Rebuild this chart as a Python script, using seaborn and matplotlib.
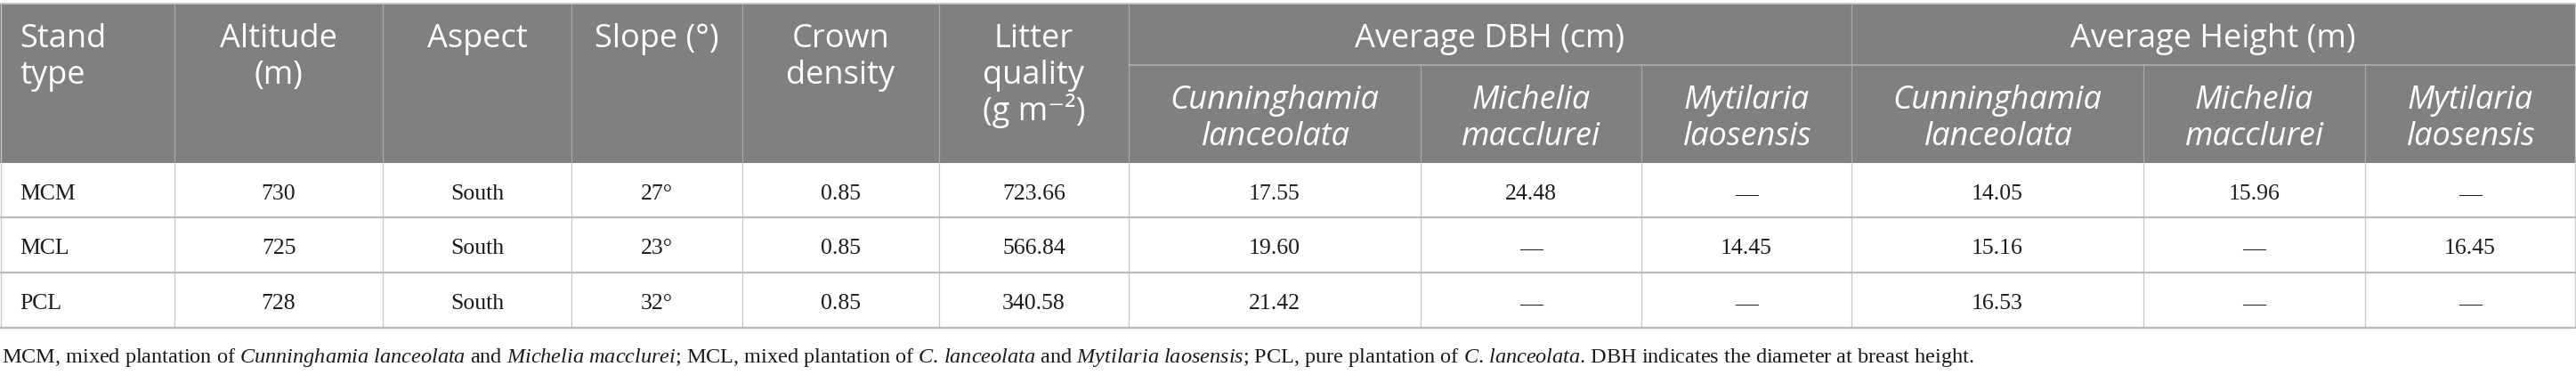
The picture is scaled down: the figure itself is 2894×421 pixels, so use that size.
import pandas as pd
import matplotlib.pyplot as plt
import seaborn as sns
from matplotlib.patches import Rectangle

# table values
stand_types = ["MCM", "MCL", "PCL"]
altitude = [730, 725, 728]
aspect = ["South", "South", "South"]
slope = [27, 23, 32]
crown_density = [0.85, 0.85, 0.85]
litter_quality = [723.66, 566.84, 340.58]
dbh_cunninghamia = [17.55, 19.60, 21.42]
dbh_michelia = [24.48, None, None]
dbh_mytilaria = [None, 14.45, None]
height_cunninghamia = [14.05, 15.16, 16.53]
height_michelia = [15.96, None, None]
height_mytilaria = [None, 16.45, None]

main_headers = [["Stand", "type"], ["Altitude", "(m)"], ["Aspect"], ["Slope (°)"],
                ["Crown", "density"], ["Litter", "quality", "(g m⁻²)"]]
group_headers = ["Average DBH (cm)", "Average Height (m)"]
species_headers = [["Cunninghamia", "lanceolata"], ["Michelia", "macclurei"],
                   ["Mytilaria", "laosensis"]]

footnote = (r"MCM, mixed plantation of $\mathit{Cunninghamia}$ $\mathit{lanceolata}$ and "
            r"$\mathit{Michelia}$ $\mathit{macclurei}$; MCL, mixed plantation of "
            r"$\mathit{C}$. $\mathit{lanceolata}$ and $\mathit{Mytilaria}$ $\mathit{laosensis}$; "
            r"PCL, pure plantation of $\mathit{C}$. $\mathit{lanceolata}$. "
            r"DBH indicates the diameter at breast height.")


def fmt(v):
    return "—" if v is None else f"{v:.2f}"


df = pd.DataFrame({
    "stand": stand_types,
    "altitude": [str(a) for a in altitude],
    "aspect": aspect,
    "slope": [f"{s}°" for s in slope],
    "crown": [f"{c:.2f}" for c in crown_density],
    "litter": [f"{l:.2f}" for l in litter_quality],
    "dbh_c": [fmt(v) for v in dbh_cunninghamia],
    "dbh_mi": [fmt(v) for v in dbh_michelia],
    "dbh_my": [fmt(v) for v in dbh_mytilaria],
    "h_c": [fmt(v) for v in height_cunninghamia],
    "h_mi": [fmt(v) for v in height_michelia],
    "h_my": [fmt(v) for v in height_mytilaria],
})

sns.set_theme(style="white")
plt.rcParams["mathtext.fontset"] = "custom"
plt.rcParams["mathtext.rm"] = "Liberation Serif"
plt.rcParams["mathtext.it"] = "Liberation Serif:italic"

W, H = 2894, 421
# layout (pixels)
col_edges = [0, 196, 430, 642, 834, 1055, 1268, 1596, 1844, 2080, 2408, 2657, 2893]
y_top, y_sub, y_head = 5, 73, 183
row_edges = [183, 244, 306, 368]
header_gray = "#808080"
sans = ["Open Sans", "DejaVu Sans"]
serif = ["Liberation Serif", "DejaVu Serif"]
hsize, bsize, fsize = 26, 18.5, 17.5
line_h = 41

fig = plt.figure(figsize=(W / 100, H / 100), dpi=100)
ax = fig.add_axes([0, 0, 1, 1])
ax.set_xlim(0, W)
ax.set_ylim(H, 0)
ax.axis("off")

# header background
ax.add_patch(Rectangle((0, y_top), col_edges[-1], y_head - y_top,
                       facecolor=header_gray, edgecolor="none"))
ax.plot([0, col_edges[-1]], [y_top - 1, y_top - 1], color="#c8c8c8", lw=1.4)

# header lines
for i, x in enumerate(col_edges[1:-1], start=1):
    if i in (7, 8, 10, 11):
        ax.plot([x, x], [y_sub, y_head], color="#a8a8a8", lw=0.9)
    else:
        ax.plot([x, x], [y_top, y_head], color="#a8a8a8", lw=0.9)
ax.plot([col_edges[6], col_edges[-1]], [y_sub, y_sub], color="#a8a8a8", lw=1.4)

# body lines
for x in col_edges[1:-1]:
    ax.plot([x, x], [y_head, row_edges[-1]], color="#c8c8c8", lw=0.9)
for x in (0.5, col_edges[-1]):
    ax.plot([x, x], [y_top, row_edges[-1]], color="#c8c8c8", lw=0.9)
for y in row_edges[1:]:
    ax.plot([0, col_edges[-1]], [y, y], color="#bababa", lw=1.6)

centers = [(a + b) / 2 for a, b in zip(col_edges[:-1], col_edges[1:])]

# main headers
for i, lines in enumerate(main_headers):
    for j, txt in enumerate(lines):
        if i == 0:
            ax.text(22, 53 + j * line_h, txt, ha="left", va="baseline",
                    color="white", fontsize=hsize, family=sans)
        else:
            ax.text(centers[i], 53 + j * line_h, txt, ha="center", va="baseline",
                    color="white", fontsize=hsize, family=sans)

# group headers
for g, txt in enumerate(group_headers):
    x0, x1 = col_edges[6 + 3 * g], col_edges[9 + 3 * g]
    ax.text((x0 + x1) / 2, 53, txt, ha="center", va="baseline",
            color="white", fontsize=hsize, family=sans)
    for k, lines in enumerate(species_headers):
        for j, t in enumerate(lines):
            ax.text(centers[6 + 3 * g + k], 122 + j * line_h, t, ha="center",
                    va="baseline", color="white", fontsize=hsize, family=sans,
                    style="italic")

# body
for r, row in enumerate(df.itertuples(index=False)):
    yb = row_edges[r] + 41
    for c, val in enumerate(row):
        if c == 0:
            ax.text(22, yb, val, ha="left", va="baseline", color="#1a1a1a",
                    fontsize=bsize, family=serif)
        else:
            ax.text(centers[c], yb, val, ha="center", va="baseline",
                    color="#1a1a1a", fontsize=bsize, family=serif)

ax.text(2, 407, footnote, ha="left", va="baseline", color="#1a1a1a",
        fontsize=fsize, family=serif)

fig.savefig("out.png", dpi=100, facecolor="white")
